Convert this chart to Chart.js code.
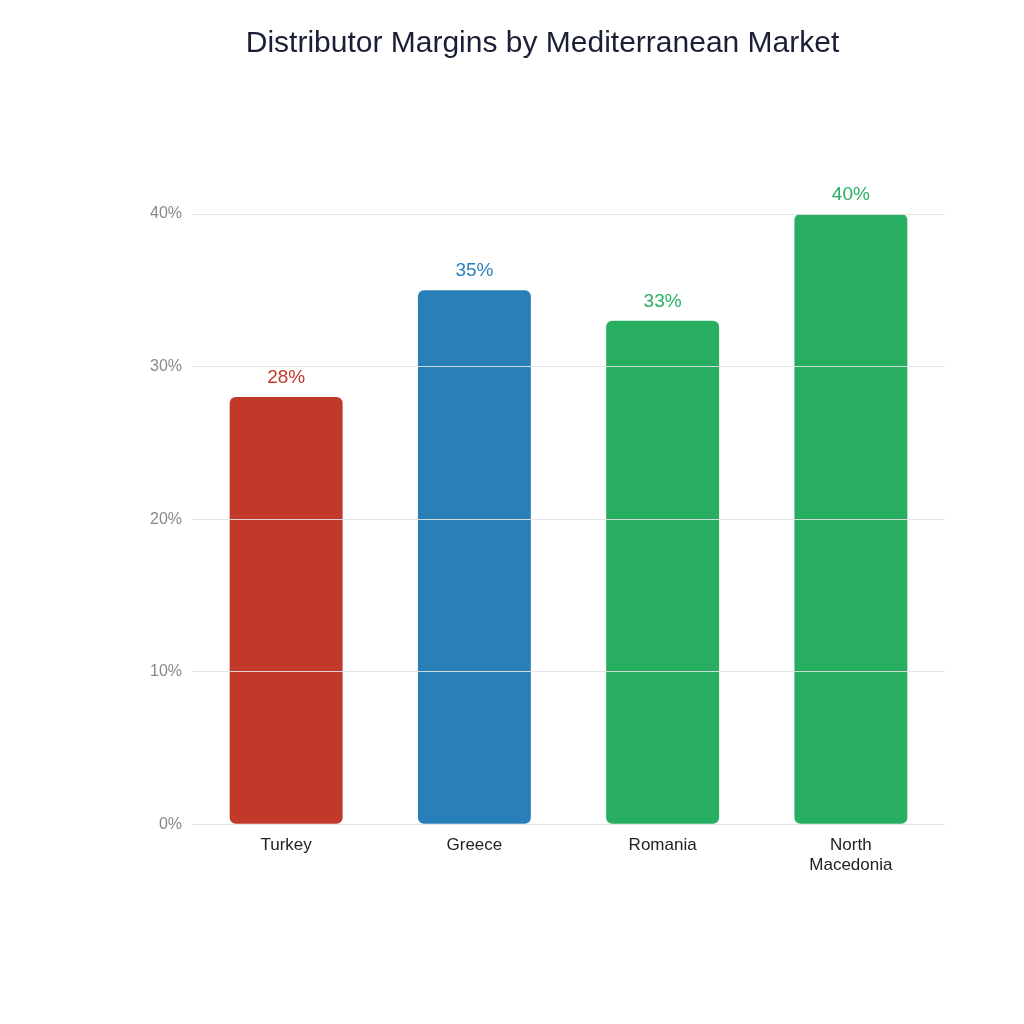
<!DOCTYPE html>
<html lang="en">
<head>
<meta charset="UTF-8">
<title>Distributor Margins by Mediterranean Market</title>
<script src="https://cdn.jsdelivr.net/npm/chart.js"></script>
<style>
  body { margin: 0; background: #fff; }
  canvas { display: block; }
</style>
</head>
<body>
<canvas id="chart" width="1024" height="1024"></canvas>
<script>
const markets = [['Turkey'], ['Greece'], ['Romania'], ['North', 'Macedonia']];
const margins = [28, 35, 33, 40];
const barColors = ['#c0392b', '#2980b9', '#27ae60', '#27ae60'];
const yTicks = [0, 10, 20, 30, 40];

// value labels above each bar
const valueLabels = {
  id: 'valueLabels',
  afterDatasetsDraw(chart) {
    const ctx = chart.ctx;
    const meta = chart.getDatasetMeta(0);
    ctx.save();
    ctx.font = '19px "Liberation Sans", Arial, sans-serif';
    ctx.textAlign = 'center';
    ctx.textBaseline = 'bottom';
    meta.data.forEach((bar, i) => {
      ctx.fillStyle = barColors[i];
      ctx.fillText(margins[i] + '%', bar.x, bar.y - 10);
    });
    ctx.restore();
  }
};

new Chart(document.getElementById('chart'), {
  type: 'bar',
  data: {
    labels: markets,
    datasets: [{
      data: margins,
      backgroundColor: barColors,
      borderRadius: 6,
      borderSkipped: false,
      categoryPercentage: 1,
      barPercentage: 0.6
    }]
  },
  options: {
    responsive: false,
    animation: false,
    layout: { padding: { left: 140, right: 79, bottom: 145 } },
    plugins: {
      legend: { display: false },
      tooltip: { enabled: false },
      title: {
        display: true,
        text: 'Distributor Margins by Mediterranean Market',
        color: '#1a1f36',
        font: { size: 30, family: '"Liberation Sans", Arial, sans-serif', weight: 'normal' },
        padding: { top: 26, bottom: 152 }
      }
    },
    scales: {
      x: {
        grid: { display: false },
        border: { display: false },
        ticks: {
          color: '#222',
          font: { size: 17, family: '"Liberation Sans", Arial, sans-serif' }
        }
      },
      y: {
        min: 0,
        max: 40,
        afterBuildTicks(axis) { axis.ticks = yTicks.map(v => ({ value: v })); },
        border: { display: false },
        grid: { color: 'rgba(225,225,225,0.9)', z: 1, drawTicks: false },
        ticks: {
          color: '#888',
          padding: 10,
          font: { size: 16, family: '"Liberation Sans", Arial, sans-serif' },
          callback: v => v + '%'
        }
      }
    }
  },
  plugins: [valueLabels]
});
</script>
</body>
</html>
